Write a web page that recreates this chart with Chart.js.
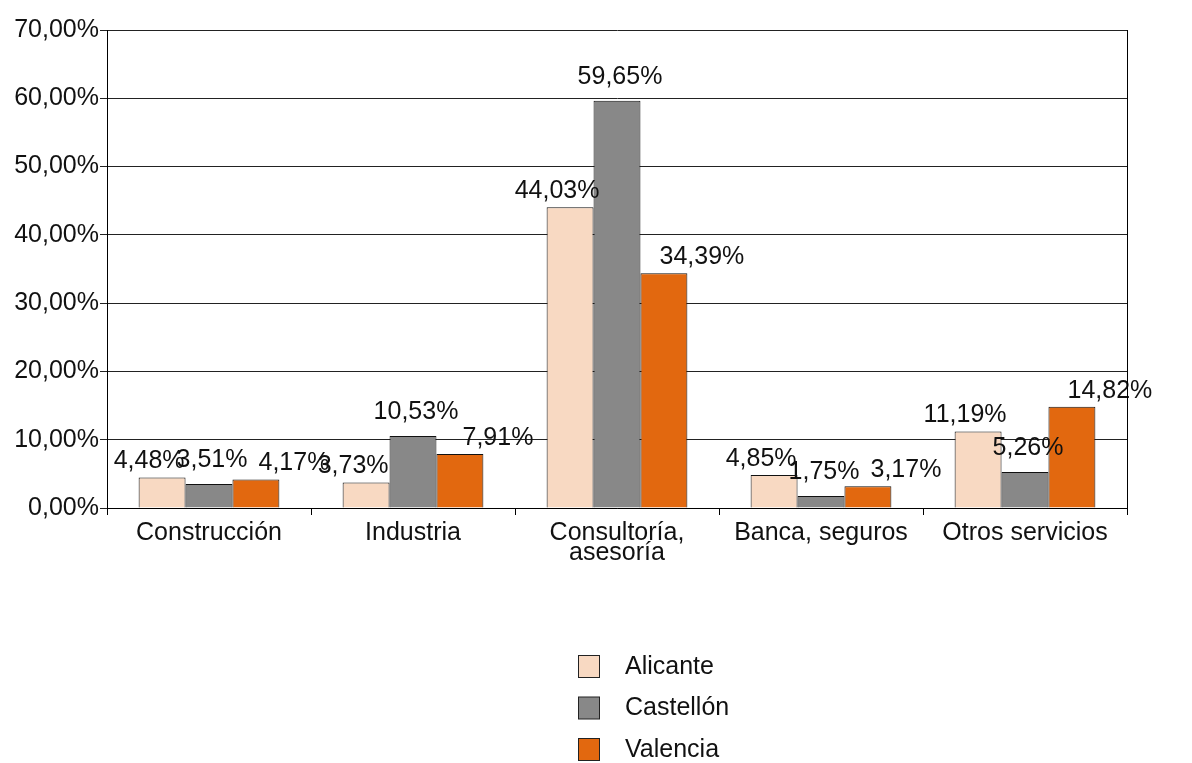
<!DOCTYPE html>
<html>
<head>
<meta charset="utf-8">
<script src="https://cdn.jsdelivr.net/npm/chart.js@4.4.0/dist/chart.umd.min.js"></script>
<style>
    body { margin: 0; background: #fff; }
    #wrap { width: 1192px; height: 763px; position: relative; }
</style>
</head>
<body>
<div id="wrap"><canvas id="sectorChart"></canvas></div>
<script>
// Datos del gráfico
const categorias = ['Construcción', 'Industria', ['Consultoría,', 'asesoría'], 'Banca, seguros', 'Otros servicios'];
const series = ['Alicante', 'Castellón', 'Valencia'];
const alicante = [4.48, 3.73, 44.03, 4.85, 11.19];
const castellon = [3.51, 10.53, 59.65, 1.75, 5.26];
const valencia = [4.17, 7.91, 34.39, 3.17, 14.82];
const ticksY = [0, 10, 20, 30, 40, 50, 60, 70];

const colores = ['#F8D9C2', '#888888', '#E2680F'];
const FONT = '"Liberation Sans", Arial, sans-serif';

function fmt(v) {
    return v.toFixed(2).replace('.', ',') + '%';
}

// etiquetas de valor, desplazadas por serie (como en el original)
const labelOffsets = [{dx: -13, dy: -16}, {dx: 3, dy: -24}, {dx: 38, dy: -16}];

const labelsPlugin = {
    id: 'valueLabels',
    afterDatasetsDraw(chart) {
        const ctx = chart.ctx;
        ctx.save();
        ctx.font = '25px ' + FONT;
        ctx.fillStyle = '#111';
        ctx.textAlign = 'center';
        ctx.textBaseline = 'middle';
        chart.data.datasets.forEach((ds, i) => {
            const meta = chart.getDatasetMeta(i);
            meta.data.forEach((bar, j) => {
                const off = labelOffsets[i];
                ctx.fillText(fmt(ds.data[j]), bar.x + off.dx, bar.y + off.dy);
            });
        });
        ctx.restore();
    }
};

const framePlugin = {
    id: 'frameAndLegend',
    afterDraw(chart) {
        const ctx = chart.ctx;
        const a = chart.chartArea;
        ctx.save();
        // borde derecho
        ctx.strokeStyle = '#000';
        ctx.lineWidth = 1;
        ctx.beginPath();
        ctx.moveTo(a.right + 0.5, a.top);
        ctx.lineTo(a.right + 0.5, a.bottom + 7);
        ctx.stroke();

        // leyenda vertical
        ctx.font = '25px ' + FONT;
        ctx.textBaseline = 'middle';
        ctx.textAlign = 'left';
        chart.data.datasets.forEach((ds, i) => {
            const y = 667 + i * 41.5;
            ctx.fillStyle = ds.backgroundColor;
            ctx.fillRect(578.5, y - 11.5, 21, 22);
            ctx.strokeStyle = '#222';
            ctx.strokeRect(578.5, y - 11.5, 21, 22);
            ctx.fillStyle = '#111';
            ctx.fillText(ds.label, 625, y);
        });
        ctx.restore();
    }
};

const ctx = document.getElementById('sectorChart').getContext('2d');
new Chart(ctx, {
    type: 'bar',
    data: {
        labels: categorias,
        datasets: [alicante, castellon, valencia].map((d, i) => ({
            label: series[i],
            data: d,
            backgroundColor: colores[i],
            borderColor: '#111',
            borderWidth: 1,
            borderSkipped: 'bottom',
            categoryPercentage: 0.69,
            barPercentage: 1.0
        }))
    },
    options: {
        responsive: true,
        maintainAspectRatio: false,
        animation: false,
        layout: { padding: { top: 30, right: 65, left: 0, bottom: 0 } },
        plugins: {
            legend: { display: false },
            tooltip: { enabled: false }
        },
        scales: {
            x: {
                grid: {
                    offset: true,
                    drawOnChartArea: false,
                    color: '#000',
                    tickLength: 7
                },
                border: { color: '#000' },
                ticks: {
                    color: '#111',
                    font: { family: FONT, size: 25, lineHeight: 0.8 },
                    padding: 8,
                    maxRotation: 0
                },
                afterFit(scale) { scale.height = 255; }
            },
            y: {
                min: 0,
                max: 70,
                afterBuildTicks(scale) {
                    scale.ticks = ticksY.map(v => ({ value: v }));
                },
                grid: {
                    color: '#222',
                    tickLength: 7
                },
                border: { color: '#000' },
                ticks: {
                    color: '#111',
                    font: { family: FONT, size: 25 },
                    padding: 1,
                    callback: v => fmt(v)
                },
                afterFit(scale) { scale.width = 107; }
            }
        }
    },
    plugins: [labelsPlugin, framePlugin]
});
</script>
</body>
</html>
